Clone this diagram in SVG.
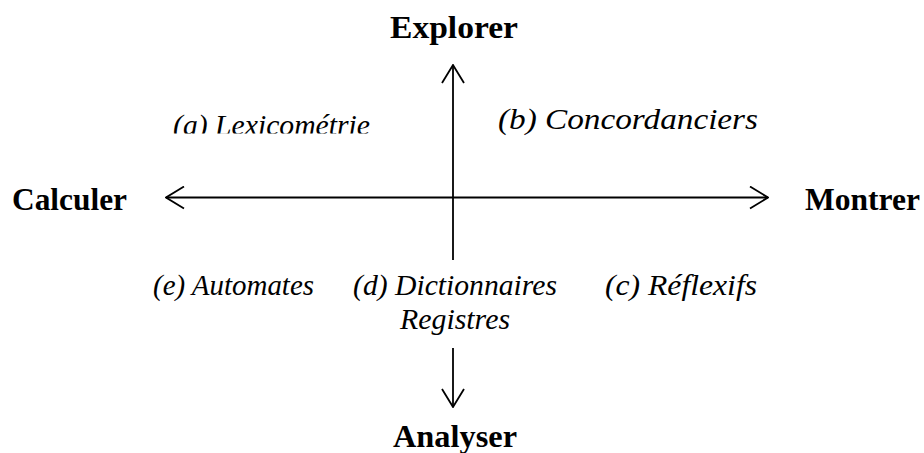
<svg xmlns="http://www.w3.org/2000/svg" width="924" height="453" viewBox="0 0 924 453">
  <style>
    .pole { font-family: "Liberation Serif", "Times New Roman", serif; font-weight: bold; font-size: 32px; fill: #000; }
    .tool { font-family: "Liberation Serif", "Times New Roman", serif; font-style: italic; font-size: 29px; fill: #000; }
    .axis { stroke: #000; stroke-width: 1.8; fill: none; }
  </style>
  <defs>
    <marker id="chevron" viewBox="0 0 20 24" refX="19" refY="12" markerWidth="20" markerHeight="24" markerUnits="userSpaceOnUse" orient="auto-start-reverse">
      <path d="M1,1 L19,12 L1,23" fill="none" stroke="#000" stroke-width="1.8"/>
    </marker>
    <clipPath id="clipLexico"><rect x="0" y="0" width="924" height="133.5"/></clipPath>
    <clipPath id="clipAuto"><rect x="0" y="0" width="315" height="453"/></clipPath>
  </defs>

  <!-- axes -->
  <g id="connectors">
    <line class="axis" x1="166" y1="197.5" x2="768" y2="197.5" marker-start="url(#chevron)" marker-end="url(#chevron)"/>
    <line class="axis" x1="453" y1="260" x2="453" y2="65" marker-end="url(#chevron)"/>
    <line class="axis" x1="453" y1="348" x2="453" y2="407" marker-end="url(#chevron)"/>
  </g>

  <!-- poles -->
  <g id="explorer"><text class="pole" x="390" y="38" textLength="128" lengthAdjust="spacingAndGlyphs">Explorer</text></g>
  <g id="calculer"><text class="pole" x="12" y="210" textLength="115" lengthAdjust="spacingAndGlyphs">Calculer</text></g>
  <g id="montrer"><text class="pole" x="805" y="210" textLength="115" lengthAdjust="spacingAndGlyphs">Montrer</text></g>
  <g id="analyser"><text class="pole" x="393" y="447" textLength="124" lengthAdjust="spacingAndGlyphs">Analyser</text></g>

  <!-- tool families -->
  <g id="lexicometrie" clip-path="url(#clipLexico)"><text class="tool" x="173" y="135" font-size="30" textLength="197" lengthAdjust="spacingAndGlyphs">(a) Lexicométrie</text></g>
  <g id="concordanciers"><text class="tool" x="498" y="129" font-size="33" textLength="260" lengthAdjust="spacingAndGlyphs">(b) Concordanciers</text></g>
  <g id="reflexifs"><text class="tool" x="605" y="295" textLength="152" lengthAdjust="spacingAndGlyphs">(c) Réflexifs</text></g>
  <g id="dictionnaires">
    <text class="tool" x="353" y="295" textLength="204" lengthAdjust="spacingAndGlyphs">(d) Dictionnaires</text>
    <text class="tool" x="400" y="329" textLength="110" lengthAdjust="spacingAndGlyphs">Registres</text>
  </g>
  <g id="automates" clip-path="url(#clipAuto)"><text class="tool" x="153" y="295" textLength="161" lengthAdjust="spacingAndGlyphs">(e) Automates</text></g>
</svg>
